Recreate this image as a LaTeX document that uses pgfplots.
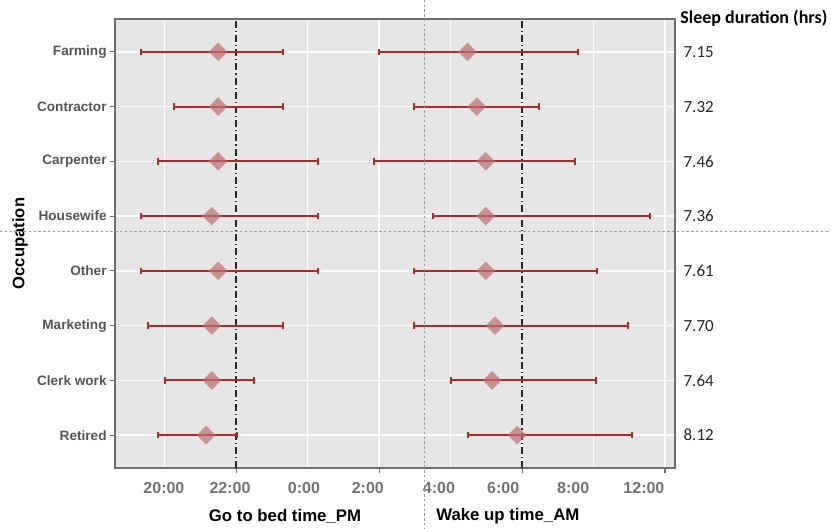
\documentclass[border=0pt]{standalone}
\usepackage{fontspec}
\setmainfont{Liberation Sans}
\newfontfamily\calibri{Carlito}
\usepackage{pgfplots}
\usepackage{pgfplotstable}
\pgfplotsset{compat=1.18}

\definecolor{panelbg}{RGB}{230,230,230}
\definecolor{barred}{RGB}{178,40,40}
\definecolor{diamond}{RGB}{190,110,110}
\definecolor{bordergrey}{RGB}{110,110,110}
\definecolor{ylabgrey}{RGB}{85,85,85}
\definecolor{xlabgrey}{RGB}{115,115,115}
\definecolor{dotgrey}{RGB}{150,150,150}

% y: row (8 = top); b* = bed time, w* = wake time (m = mean, l/h = ends); dur = sleep hours
\pgfplotstableread{
y  bm     bl     bh     wm     wl     wh     dur
8  21.49  19.32  23.30  28.47  25.99  31.57  7.15
7  21.49  20.25  23.30  28.73  26.98  30.48  7.32
6  21.49  19.81  24.29  28.98  25.85  31.48  7.46
5  21.31  19.32  24.29  28.98  27.49  33.58  7.36
4  21.49  19.32  24.29  28.98  26.98  32.09  7.61
3  21.31  19.52  23.30  29.24  26.97  32.97  7.70
2  21.31  20.01  22.49  29.16  28.01  32.07  7.64
1  21.15  19.81  22.01  29.86  28.49  33.08  8.12
}\occdata

\pgfplotsset{
  interval/.style={barred, only marks, mark=square*, mark size=3.3pt,
    mark options={rotate=45, fill=diamond, draw=diamond, draw opacity=0, fill opacity=0.7},
    error bars/.cd, x dir=both, x explicit, error mark=|,
    error bar style={line width=1pt, color=barred},
    error mark options={rotate=0, line width=1pt, mark size=1.6pt, color=barred, draw opacity=1}},
}

\begin{document}
\begin{tikzpicture}
\useasboundingbox (-57.5pt,-30.5pt) rectangle (358pt,234pt);
\begin{axis}[
  scale only axis, width=280pt, height=224.5pt,
  xmin=18.6, xmax=34.28, ymin=0.4, ymax=8.6,
  clip=false,
  axis background/.style={fill=panelbg},
  axis line style={draw=bordergrey, line width=0.7pt},
  tick align=outside, tick pos=left,
  major tick length=2.5pt, minor tick length=0pt,
  tick style={draw=bordergrey, line width=0.6pt},
  xtick={22,26,30,34}, xticklabels={,,,},
  minor xtick={20,24,28,32},
  xmajorgrids=true, xminorgrids=true, ymajorgrids=true,
  major grid style={white, line width=0.8pt},
  minor grid style={white, line width=0.5pt},
  extra x ticks={19.97,21.82,23.89,25.68,27.67,29.47,31.43,33.41},
  extra x tick labels={20:00,22:00,0:00,2:00,4:00,6:00,8:00,12:00},
  extra x tick style={grid=none, major tick length=0pt,
    tick label style={font=\fontsize{8}{9}\selectfont\bfseries, text=xlabgrey, yshift=-3.5pt}},
  ytick={1,...,8},
  yticklabels={Retired,Clerk work,Marketing,Other,Housewife,Carpenter,Contractor,Farming},
  yticklabel style={font=\fontsize{6.8}{8}\selectfont\bfseries, text=ylabgrey, inner sep=1.5pt},
]
% reference lines at 22:00 and 6:00
\addplot[black!85, line width=1pt, dash pattern=on 3.5pt off 1.5pt on 0.6pt off 1.5pt]
  coordinates {(22,0.4) (22,8.6)};
\addplot[black!85, line width=1pt, dash pattern=on 3.5pt off 1.5pt on 0.6pt off 1.5pt]
  coordinates {(30,0.4) (30,8.6)};

% go to bed
\addplot[interval]
  table[x=bm, y=y, x error plus expr=\thisrow{bh}-\thisrow{bm},
        x error minus expr=\thisrow{bm}-\thisrow{bl}] {\occdata};

% wake up
\addplot[interval]
  table[x=wm, y=y, x error plus expr=\thisrow{wh}-\thisrow{wm},
        x error minus expr=\thisrow{wm}-\thisrow{wl}] {\occdata};

% sleep duration values on the right
\addplot[draw=none, mark=none, nodes near coords, point meta=explicit symbolic,
  nodes near coords style={anchor=west, inner sep=0pt,
    font=\calibri\fontsize{8.5}{10}\selectfont, text=black!85}]
  table[x expr=34.51, y=y, meta=dur] {\occdata};

\node[anchor=west, inner sep=0pt, font=\calibri\bfseries\fontsize{9}{10}\selectfont]
  at ([xshift=2.5pt, yshift=0.5pt]rel axis cs:1,1) {Sleep duration (hrs)};

\node[rotate=90, font=\fontsize{8.3}{9}\selectfont\bfseries]
  at ([xshift=-47.5pt]rel axis cs:0,0.5) {Occupation};
\node[font=\fontsize{8.4}{9}\selectfont\bfseries] at ([yshift=-24pt]axis cs:23.36,0.4) {Go to bed time\_PM};
\node[font=\fontsize{8.4}{9}\selectfont\bfseries] at ([yshift=-24pt]axis cs:29.6,0.4) {Wake up time\_AM};

% dotted guide lines across the figure
\addplot[dotgrey, line width=0.4pt, dash pattern=on 1.2pt off 1.2pt]
  coordinates {(27.26,8.95) (27.26,-0.72)};
\addplot[dotgrey, line width=0.4pt, dash pattern=on 1.2pt off 1.2pt]
  coordinates {(15.38,4.72) (38.65,4.72)};
\end{axis}
\end{tikzpicture}
\end{document}
